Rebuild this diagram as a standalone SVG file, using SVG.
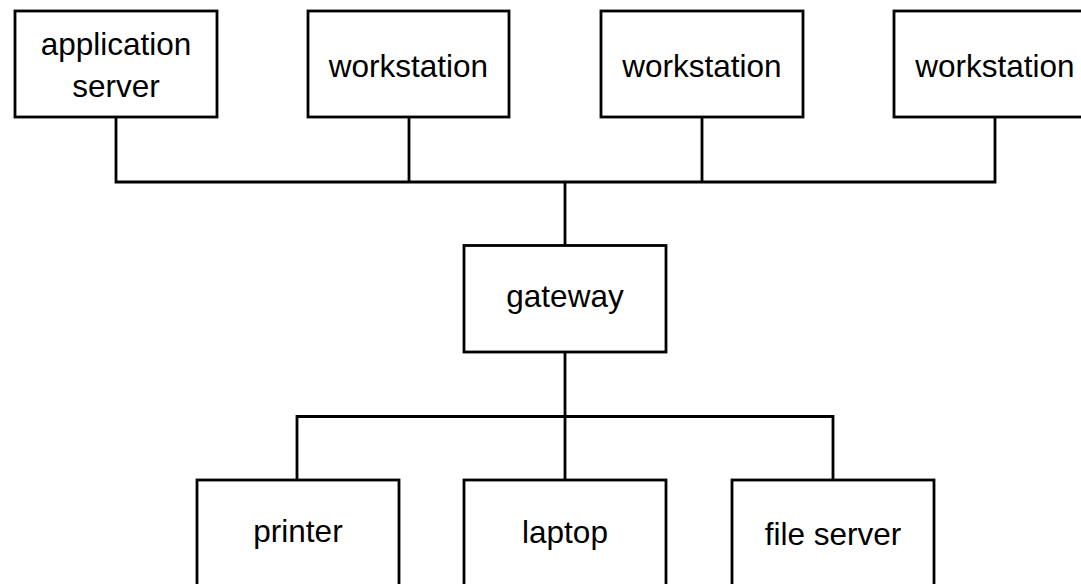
<svg xmlns="http://www.w3.org/2000/svg" width="1081" height="584" viewBox="0 0 1081 584">
<style>
.box{fill:#fff;stroke:#000;stroke-width:2.8}
.lbl{font-family:"Liberation Sans",Arial,sans-serif;font-size:31.5px;fill:#000;text-anchor:middle}
.wire{fill:none;stroke:#000;stroke-width:2.8}
</style>
<rect width="1081" height="584" fill="#fff"/>
<g id="connectors">
<path class="wire" d="M116,117 V182 H995 V117 M409,117 V182 M702,117 V182 M565,182 V245"/>
<path class="wire" d="M565,352 V416.5 M297,480 V416.5 H833 V480 M565,416.5 V480"/>
</g>
<g id="app-server"><rect class="box" x="15" y="11" width="202" height="106"/><text class="lbl" x="116" y="55">application</text><text class="lbl" x="116" y="97">server</text></g>
<g id="workstation-1"><rect class="box" x="308" y="11" width="201" height="106"/><text class="lbl" x="408.5" y="77">workstation</text></g>
<g id="workstation-2"><rect class="box" x="601" y="11" width="202" height="106"/><text class="lbl" x="702" y="77">workstation</text></g>
<g id="workstation-3"><rect class="box" x="894" y="11" width="202" height="106"/><text class="lbl" x="995" y="77">workstation</text></g>
<g id="gateway"><rect class="box" x="464" y="245.5" width="202" height="106.5"/><text class="lbl" x="565" y="307">gateway</text></g>
<g id="printer"><rect class="box" x="197" y="480" width="202" height="106"/><text class="lbl" x="298" y="542">printer</text></g>
<g id="laptop"><rect class="box" x="464" y="480" width="202" height="106"/><text class="lbl" x="565" y="543">laptop</text></g>
<g id="file-server"><rect class="box" x="732" y="480" width="202" height="106"/><text class="lbl" x="833" y="545">file server</text></g>
</svg>
